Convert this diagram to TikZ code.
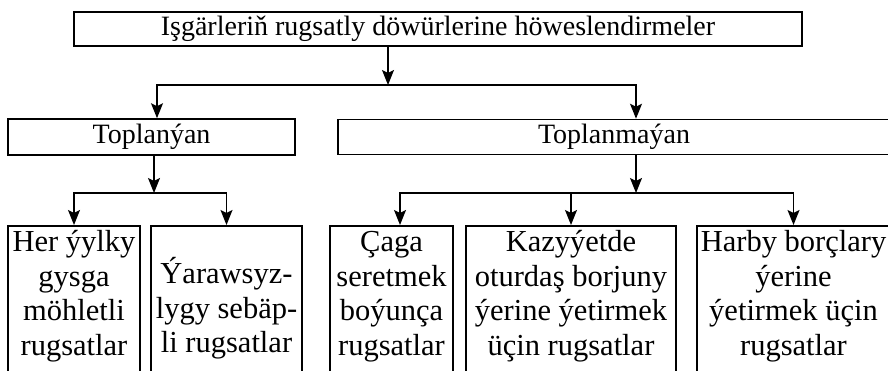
\documentclass[tikz,border=0pt]{standalone}
\usepackage{fontspec}
\setmainfont{Liberation Serif}
\usetikzlibrary{arrows.meta}

\tikzset{
  head/.style={draw, line width=1.6pt, inner sep=0pt, font=\fontsize{28}{30}\selectfont},
  leaf/.style={draw, line width=1.6pt, inner sep=0pt, anchor=north, text height=26pt, text depth=180pt, font=\fontsize{30.5}{34.5}\selectfont},
  arrow/.style={line width=1.3pt, -{Stealth[length=15pt,width=12pt,inset=3pt]}},
}
\newcommand{\leaftext}[2]{\parbox[t]{#1}{\centering #2}}

\begin{document}
\begin{tikzpicture}[x=1pt, y=1pt]
\path[use as bounding box, clip] (0,0) rectangle (888,370);

% top box
\node[head, minimum width=728pt, minimum height=34pt] (top) at (438,341) {Işgärleriň rugsatly döwürlerine höweslendirmeler};

% second row
\node[head, minimum width=287pt, minimum height=36pt] (toplanyan) at (151.5,233) {Toplanýan};
\node[head, minimum width=552pt, minimum height=35pt] (toplanmayan) at (614,233) {Toplanmaýan};

\coordinate (split0) at (388,285);
\coordinate (split1) at (154,177);
\coordinate (split2) at (636,177);

% bottom row
\node[leaf] (her) at (74,145) {\leaftext{132pt}{Her ýylky\\gysga\\möhletli\\rugsatlar}};
\node[leaf, text height=58pt] (yaraw) at (226.5,145) {\leaftext{151pt}{Ýarawsyz-\\lygy sebäp-\\li rugsatlar}};
\node[leaf] (caga) at (391.5,145) {\leaftext{123pt}{Çaga\\seretmek\\boýunça\\rugsatlar}};
\node[leaf] (kazy) at (571,145) {\leaftext{210pt}{Kazyýetde\\oturdaş borjuny\\ýerine ýetirmek\\üçin rugsatlar}};
\node[leaf] (harby) at (793.5,145) {\leaftext{193pt}{Harby borçlary\\ýerine\\ýetirmek üçin\\rugsatlar}};

% connectors
\draw[arrow] (top.south -| split0) -- (split0);
\draw[arrow] (split0) -| ([xshift=5.5pt]toplanyan.north);
\draw[arrow] (split0) -| ([xshift=22pt]toplanmayan.north);
\draw[arrow] (toplanyan.south -| split1) -- (split1);
\draw[arrow] (split1) -| (her.north);
\draw[arrow] (split1) -| (yaraw.north);
\draw[arrow] (toplanmayan.south -| split2) -- (split2);
\draw[arrow] (split2) -| ([xshift=8.5pt]caga.north);
\draw[arrow] (split2) -| (kazy.north);
\draw[arrow] (split2) -| (harby.north);
\end{tikzpicture}
\end{document}
